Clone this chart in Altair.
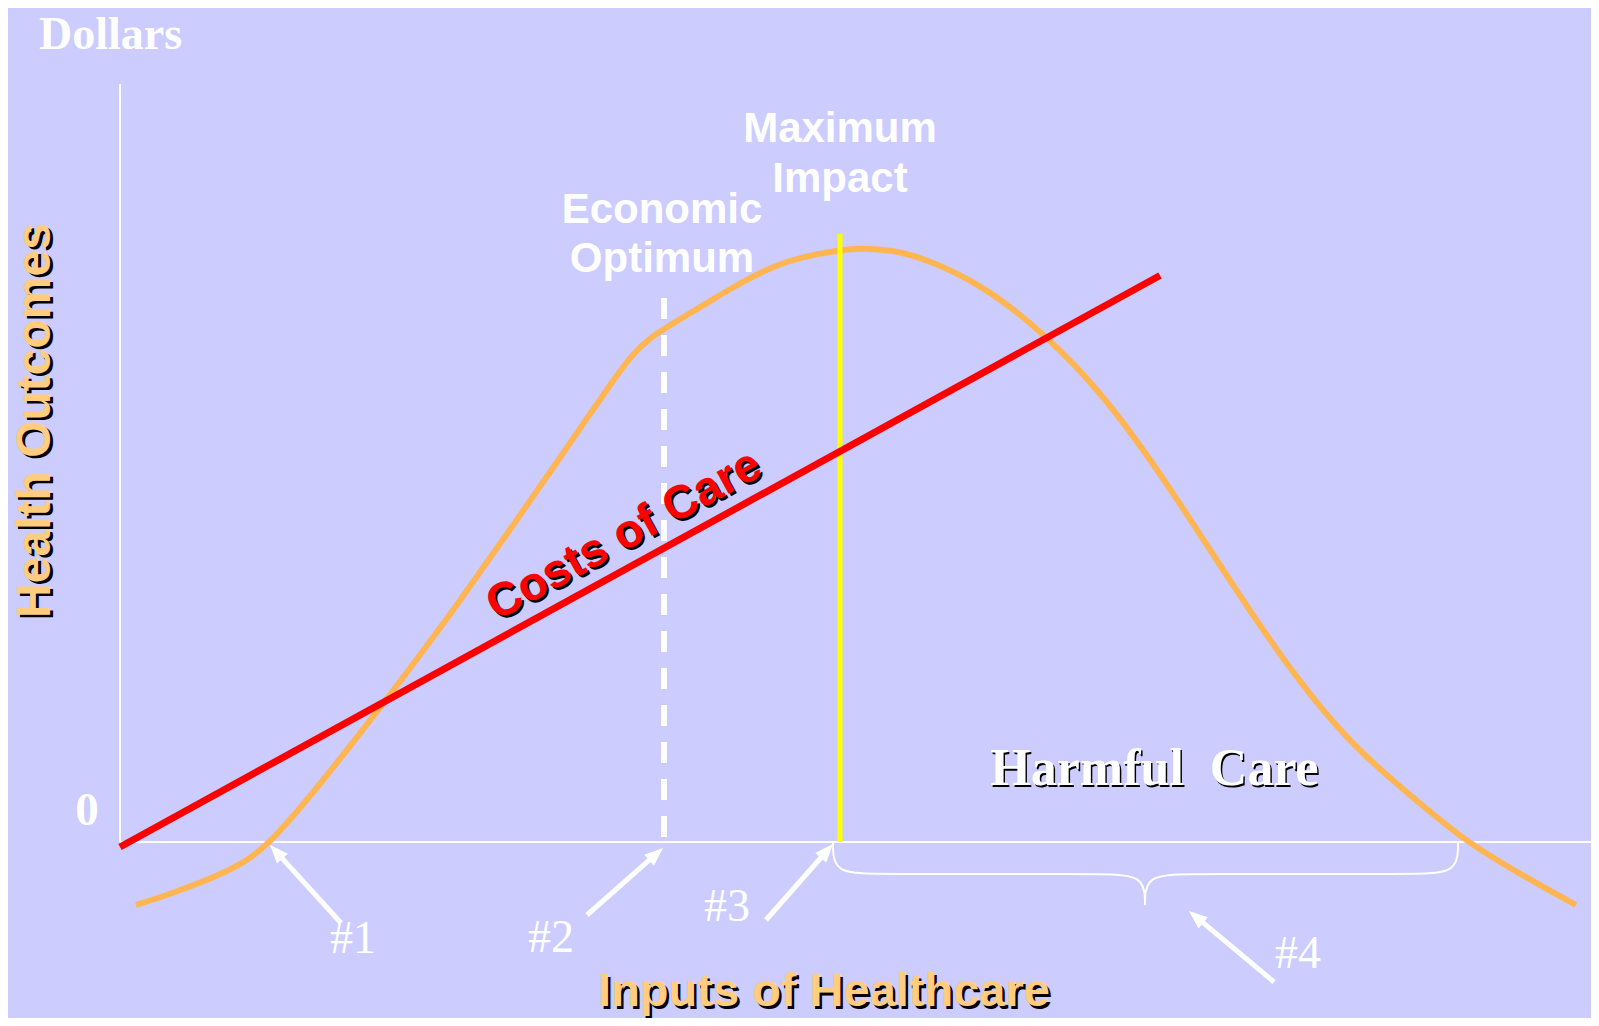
import math
import altair as alt
import pandas as pd

# ---------------- data (conceptual units: x = inputs of healthcare, y = outcomes / dollars) -------------
# Health-outcome curve
outcome_x = [1.6, 5.0, 8.0, 12.2, 15.1, 18.7, 22.0, 26.3, 29.7, 33.7, 38.7, 43.7, 46.3, 49.0, 51.3,
             53.0, 55.0, 58.7, 62.0, 65.3, 68.6, 72.0, 74.0, 77.0, 80.2, 86.3, 92.4, 98.5, 104.7,
             110.8, 116.9, 123.0, 129.1, 134.6, 140.0, 145.6]
outcome_y = [-6.3, -5.2, -4.1, -2.3, 0.0, 4.2, 8.3, 13.8, 18.3, 23.7, 30.8, 38.0, 41.8, 45.7, 48.9,
             50.4, 51.7, 53.9, 55.9, 57.6, 58.6, 59.2, 59.4, 59.2, 58.5, 55.7, 50.9, 44.6, 35.9,
             26.4, 17.3, 9.8, 4.6, 0.0, -3.2, -6.3]

# Costs of care (straight line)
cost_x = [0.0, 104.0]
cost_y = [-0.5, 56.65]

# axes extents
axis_x_end = 147.1
axis_y_top = 75.8

# reference lines
econ_opt_x = 54.4
econ_opt_top = 54.4
max_impact_x = 72.0
max_impact_top = 60.8

# arrows (#1..#4)
arrow_names = ["#1", "#2", "#3", "#4"]
arrow_tail_x = [22.1, 46.7, 64.6, 115.4]
arrow_tail_y = [-8.1, -7.3, -7.8, -14.0]
arrow_tip_x = [15.0, 54.3, 71.3, 106.9]
arrow_tip_y = [-0.3, -0.6, -0.2, -6.9]
arrow_label_x = [23.3, 43.1, 60.7, 117.8]
arrow_label_y = [-11.1, -11.0, -7.9, -12.6]

# brace under "harmful care"
brace_x = [71.3, 71.3, 76.3, 97.5, 102.5, 102.5,
           102.5, 102.5, 107.5, 128.8, 133.8, 133.8]
brace_y = [-0.1, -3.2, -3.2, -3.2, -3.2, -6.3,
           -6.3, -3.2, -3.2, -3.2, -3.2, -0.1]
brace_part = ["left"] * 6 + ["right"] * 6

# text labels
dollars_label = ("Dollars", -8.1, 79.3)
zero_label = ("0", -3.3, 1.7)
y_title = ("Health Outcomes", -7.0, 42.15)
x_title = ("Inputs of Healthcare", 70.4, -16.4)
econ_lines = ["Economic", "Optimum"]
econ_y = [61.9, 57.0]
max_lines = ["Maximum", "Impact"]
max_y = [70.0, 65.0]
cost_label = ("Costs of Care", 51.08, 29.45)
harm_label = ("Harmful\u00a0 Care", 103.45, 5.7)

# ---------------- chart setup ----------------
XDOM = [-11.2, 147.1]
YDOM = [-17.6, 83.4]
W, H = 1583, 1010
px_x = W / (XDOM[1] - XDOM[0])
px_y = H / (YDOM[1] - YDOM[0])

SANS = "Liberation Sans"
SERIF = "Liberation Serif"
BG = "#CCCCFF"
ORANGE = "#FFB652"
TITLE_ORANGE = "#FFCC80"

X = lambda f="x": alt.X(f"{f}:Q", scale=alt.Scale(domain=XDOM), axis=None)
Y = lambda f="y": alt.Y(f"{f}:Q", scale=alt.Scale(domain=YDOM), axis=None)

layers = []

# axes lines
axes_df = pd.DataFrame({
    "x": [0.0, 0.0], "x2": [0.0, axis_x_end],
    "y": [0.0, 0.0], "y2": [axis_y_top, 0.0],
})
layers.append(alt.Chart(axes_df).mark_rule(color="white", strokeWidth=2).encode(
    x=X(), x2="x2:Q", y=Y(), y2="y2:Q"))

# outcome curve
curve_df = pd.DataFrame({"x": outcome_x, "y": outcome_y, "i": range(len(outcome_x))})
layers.append(alt.Chart(curve_df).mark_line(color=ORANGE, strokeWidth=6, interpolate="basis").encode(
    x=X(), y=Y(), order="i:Q"))

# economic optimum (dashed white) and maximum impact (yellow)
econ_df = pd.DataFrame({"x": [econ_opt_x], "y": [econ_opt_top], "y2": [0.0]})
layers.append(alt.Chart(econ_df).mark_rule(color="white", strokeWidth=6, strokeDash=[21, 16],
                                           strokeCap="butt").encode(x=X(), y=Y(), y2="y2:Q"))
maxi_df = pd.DataFrame({"x": [max_impact_x], "y": [max_impact_top], "y2": [0.0]})
layers.append(alt.Chart(maxi_df).mark_rule(color="#FFFF00", strokeWidth=5).encode(
    x=X(), y=Y(), y2="y2:Q"))

# costs line
cost_df = pd.DataFrame({"x": cost_x, "y": cost_y, "i": [0, 1]})
layers.append(alt.Chart(cost_df).mark_line(color="#FF0000", strokeWidth=7, strokeCap="butt").encode(
    x=X(), y=Y(), order="i:Q"))

# brace
brace_df = pd.DataFrame({"x": brace_x, "y": brace_y, "part": brace_part, "i": range(len(brace_x))})
layers.append(alt.Chart(brace_df).mark_line(color="white", strokeWidth=2, interpolate="basis").encode(
    x=X(), y=Y(), detail="part:N", order="i:Q"))

# arrows
rows = []
for name, tx, ty, hx, hy in zip(arrow_names, arrow_tail_x, arrow_tail_y, arrow_tip_x, arrow_tip_y):
    sdx = (hx - tx) * px_x
    sdy = -(hy - ty) * px_y
    L = math.hypot(sdx, sdy)
    ux, uy = sdx / L, sdy / L
    back = 12.0
    ex = hx - ux * back / px_x
    ey = hy + uy * back / px_y
    ang = math.degrees(math.atan2(sdx, -sdy)) % 360
    rows.append({"name": name, "x": tx, "y": ty, "x2": ex, "y2": ey, "hx": hx, "hy": hy, "angle": ang})
arrow_df = pd.DataFrame(rows)
layers.append(alt.Chart(arrow_df).mark_rule(color="white", strokeWidth=5, strokeCap="butt").encode(
    x=X(), y=Y(), x2="x2:Q", y2="y2:Q"))
ARROW_PATH = "M0,0L0.55,1.4L-0.55,1.4Z"
layers.append(alt.Chart(arrow_df).mark_point(shape=ARROW_PATH, filled=True, size=700, color="white",
                                             opacity=1, strokeWidth=0).encode(
    x=X("hx"), y=Y("hy"), angle=alt.Angle("angle:Q", scale=None)))


def text_layers(texts, xs, ys, color, font, size, weight="bold", angle=0.0, align="center",
                baseline="alphabetic", shadow=None):
    df = pd.DataFrame({"text": texts, "x": xs, "y": ys})
    out = []
    if shadow is not None:
        sx, sy = shadow
        a = math.radians(angle)
        ldx = sx * math.cos(a) + sy * math.sin(a)
        ldy = -sx * math.sin(a) + sy * math.cos(a)
        out.append(alt.Chart(df).mark_text(color="black", font=font, fontSize=size, fontWeight=weight,
                                           angle=angle, align=align, baseline=baseline,
                                           dx=ldx, dy=ldy).encode(x=X(), y=Y(), text="text:N"))
    out.append(alt.Chart(df).mark_text(color=color, font=font, fontSize=size, fontWeight=weight,
                                       angle=angle, align=align, baseline=baseline).encode(
        x=X(), y=Y(), text="text:N"))
    return out


layers += text_layers([dollars_label[0]], [dollars_label[1]], [dollars_label[2]], "white", SERIF, 46,
                      align="left")
layers += text_layers([zero_label[0]], [zero_label[1]], [zero_label[2]], "white", SERIF, 47)
layers += text_layers([y_title[0]], [y_title[1]], [y_title[2]], TITLE_ORANGE, SANS, 48, angle=270,
                      shadow=(2.5, 2.5))
layers += text_layers([x_title[0]], [x_title[1]], [x_title[2]], TITLE_ORANGE, SANS, 47, shadow=(2.5, 2.5))
layers += text_layers(econ_lines, [econ_opt_x - 0.2] * 2, econ_y, "white", SANS, 42)
layers += text_layers(max_lines, [max_impact_x] * 2, max_y, "white", SANS, 42)

cost_angle = math.degrees(math.atan2(-(cost_y[1] - cost_y[0]) * px_y, (cost_x[1] - cost_x[0]) * px_x)) % 360
layers += text_layers([cost_label[0]], [cost_label[1]], [cost_label[2]], "#FF0000", SANS, 47,
                      angle=cost_angle, shadow=(2.5, 2.5))
layers += text_layers([harm_label[0]], [harm_label[1]], [harm_label[2]], "white", SERIF, 52,
                      shadow=(1.5, 1.5))
layers += text_layers(arrow_names, arrow_label_x, arrow_label_y, "white", SERIF, 46, weight="normal")

chart = alt.layer(*layers).properties(
    width=W, height=H, padding=0, autosize="none"
).configure(background=BG).configure_view(stroke=None)

chart.save("out.html", embed_options={"renderer": "svg", "actions": False})
